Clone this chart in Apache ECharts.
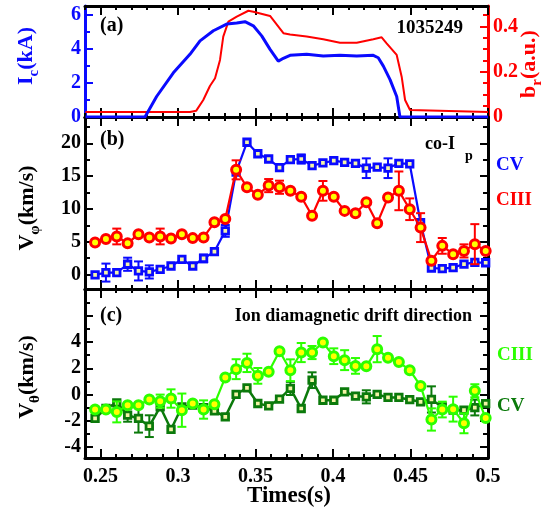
<!DOCTYPE html>
<html>
<head>
<meta charset="utf-8">
<script src="https://cdn.jsdelivr.net/npm/echarts@6/dist/echarts.min.js"></script>
<style>html,body{margin:0;padding:0;background:#fff}#c{width:554px;height:515px}</style>
</head>
<body>
<div id="c"></div>
<script>
// ---------- data ----------
var times = [0.2465,0.2535,0.2605,0.2675,0.2745,0.2815,0.2885,0.2955,0.3025,0.3095,0.3165,0.3235,0.3305,0.3375,0.3445,0.3515,0.3585,0.3655,0.3725,0.3795,0.3865,0.3935,0.4005,0.4075,0.4145,0.4215,0.4285,0.4355,0.4425,0.4495,0.4565,0.4635,0.4705,0.4775,0.4845,0.4915,0.4985];
// panel (b) toroidal velocity (km/s)
var cvTor    = [-0.05,0.3,0.3,1.57,0.55,0.4,0.8,1.3,2.3,1.3,2.45,3.5,6.65,15.6,20.15,18.4,17.6,16.3,17.5,17.6,16.6,17.0,17.35,17.1,16.95,16.2,16.35,16.2,16.95,16.85,7.9,1.0,0.9,1.05,1.6,1.85,1.8];
var cvTorErr = [0,1.37,0,1.0,1.45,1.0,0,0,0,0,0.6,0,0.9,0,0,0,0,0,0,0.7,0,0,0,0,0,1.5,0,1.5,0,0,0,0,0,0,0,0,0];
var ciiiTor    = [4.9,5.4,5.8,4.75,6.15,5.65,5.8,5.5,6.15,5.55,5.65,7.95,8.45,15.95,13.3,12.15,13.55,13.3,12.75,11.85,8.95,12.75,11.85,9.7,9.35,11.0,7.8,11.75,12.75,9.95,7.15,2.1,4.37,3.1,3.6,4.63,3.6];
var ciiiTorErr = [0,0,1.2,0,0,0,1.2,0,0,0,0,0,0,1.45,0,0,1.0,1.0,0,0,0,1.5,0,0,0,0,0,0,2.95,1.65,2.2,0,1.2,0,1.0,3.05,0];
// panel (c) poloidal velocity (km/s)
var ciiiPol    = [-1.15,-1.15,-1.33,-0.82,-0.82,-0.38,-0.51,-0.31,-1.2,-0.69,-1.15,-0.74,1.3,1.93,2.41,1.42,1.73,3.3,1.85,3.2,3.2,3.97,2.92,2.62,2.18,2.15,3.46,2.8,2.47,1.85,0.65,-1.91,-1.15,-1.12,-2.2,0.28,-1.8];
var ciiiPolErr = [0,0,0.8,0,0,0,0.5,0.7,1.27,0,0.7,0,0,0.76,0.7,0.6,0,0,0.83,0.73,0.5,0,0.6,0.76,0.6,0,1.0,0,0,0,0,0.85,0.6,0.95,0.76,0.5,0];
var cvPol    = [-1.83,-1.07,-0.64,-1.58,-1.83,-2.42,-0.94,-2.67,-0.94,-0.82,-1.0,-1.25,-1.71,0.0,0.51,-0.69,-0.87,-0.36,0.46,-1.07,1.09,-0.44,-0.44,0.2,-0.13,-0.18,0.0,-0.23,-0.23,-0.4,-0.56,-0.38,-0.95,-1.2,-1.2,-1.0,-0.7];
var cvPolErr = [0,0,0,0.5,1.08,0.83,0,0,0,0,0,0,0,0,0,0,0,0,0.5,0,0.6,0,0,0,0,0.5,0,0,0,0,0,1.0,0,0,0,0.6,0];
// panel (a) coil current (kA) and b_r (a.u.)
var icTime = [0.2403,0.2787,0.2862,0.297,0.3077,0.3142,0.3228,0.3314,0.3379,0.3432,0.3486,0.354,0.3594,0.3647,0.3672,0.3723,0.383,0.3937,0.4045,0.4153,0.426,0.4292,0.4325,0.4368,0.4411,0.4432,0.5];
var icVals = [0,0,1.2,2.59,3.67,4.46,5.05,5.44,5.5,5.58,5.34,4.75,3.96,3.27,3.4,3.61,3.67,3.57,3.61,3.57,3.61,3.47,2.98,2.19,1.2,0,0];
var brTime = [0.2403,0.3077,0.3118,0.3163,0.3206,0.3239,0.3271,0.3292,0.3325,0.3379,0.3454,0.3486,0.3594,0.368,0.3723,0.383,0.3937,0.4045,0.4153,0.426,0.4314,0.4346,0.4411,0.4443,0.4465,0.4497,0.5];
var brVals = [0.022,0.022,0.028,0.075,0.137,0.171,0.252,0.355,0.421,0.443,0.469,0.465,0.446,0.37,0.364,0.355,0.343,0.328,0.328,0.343,0.352,0.325,0.274,0.178,0.075,0.031,0.022];
// ticks / tick labels
var xMajor = [0.25,0.3,0.35,0.4,0.45,0.5];
var xMinor = [0.24,0.26,0.27,0.28,0.29,0.31,0.32,0.33,0.34,0.36,0.37,0.38,0.39,0.41,0.42,0.43,0.44,0.46,0.47,0.48,0.49];
var icMajor = [0,2,4,6], icMinor = [1,3,5];
var brMajor = [0,0.2,0.4], brMinor = [0.05,0.1,0.15,0.25,0.3,0.35,0.45];
var torMajor = [0,5,10,15,20], torMinor = [2.5,7.5,12.5,17.5,22.5];
var polMajor = [-4,-2,0,2,4,6], polMinor = [-3,-1,1,3,5,7], polLabels = [-4,-2,0,2,4];

// ---------- helpers ----------
var FONT = 'Liberation Serif';
var xAxes = [], yAxes = [];
function addX(g, pos, ticks, len, line, labels) {
  xAxes.push({
    type: 'value', gridIndex: g, position: pos, min: 0.24, max: 0.5,
    axisLine: {show: line, onZero: false, lineStyle: {color: '#000', width: 3}},
    axisTick: {show: true, inside: true, length: len, customValues: ticks, lineStyle: {color: '#000', width: 2}},
    axisLabel: labels ? {show: true, customValues: labels, margin: 9, fontFamily: FONT, fontWeight: 'bold', fontSize: 20, color: '#000',
      formatter: function (v) { return String(+(+v).toFixed(2)); }} : {show: false},
    splitLine: {show: false}
  });
  return xAxes.length - 1;
}
function addY(g, pos, min, max, ticks, len, line, color, labels, margin) {
  yAxes.push({
    type: 'value', gridIndex: g, position: pos, min: min, max: max,
    axisLine: {show: line, onZero: false, lineStyle: {color: color, width: 3}},
    axisTick: {show: true, inside: true, length: len, customValues: ticks, lineStyle: {color: color, width: 2}},
    axisLabel: labels ? {show: true, customValues: labels, margin: margin || 4, fontFamily: FONT, fontWeight: 'bold', fontSize: 20, color: color,
      formatter: function (v) { return String(+(+v).toFixed(2)); }} : {show: false},
    splitLine: {show: false}
  });
  return yAxes.length - 1;
}
var xMain = [];
for (var g = 0; g < 3; g++) {
  xMain.push(addX(g, 'bottom', xMajor, 9, true, g === 2 ? xMajor : null));
  addX(g, 'bottom', xMinor, 4, false, null);
  addX(g, 'top', xMajor, 9, true, null);
  addX(g, 'top', xMinor, 4, false, null);
}
// panel a
var yIc = addY(0, 'left', 0, 6.5, icMajor, 8, true, '#0a0aff', icMajor);
addY(0, 'left', 0, 6.5, icMinor, 5, false, '#0a0aff', null);
var yBr = addY(0, 'right', 0, 0.49, brMajor, 8, true, '#ff0000', brMajor, 5);
addY(0, 'right', 0, 0.49, brMinor, 5, false, '#ff0000', null);
// panel b
var yTor = addY(1, 'left', -2.2, 24, torMajor, 8, true, '#000', torMajor);
addY(1, 'left', -2.2, 24, torMinor, 5, false, '#000', null);
addY(1, 'right', -2.2, 24, torMajor, 8, true, '#000', null);
addY(1, 'right', -2.2, 24, torMinor, 5, false, '#000', null);
// panel c
var yPol = addY(2, 'left', -4.85, 8.05, polMajor, 8, true, '#000', polLabels);
addY(2, 'left', -4.85, 8.05, polMinor, 5, false, '#000', null);
addY(2, 'right', -4.85, 8.05, polMajor, 8, true, '#000', null);
addY(2, 'right', -4.85, 8.05, polMinor, 5, false, '#000', null);

function pairs(xs, ys) { return xs.map(function (x, i) { return [x, ys[i]]; }); }
function errData(vals, errs) {
  var out = [];
  for (var i = 0; i < times.length; i++) if (errs[i] > 0) out.push([times[i], vals[i], errs[i]]);
  return out;
}
function errSeries(xi, yi, vals, errs, color, z) {
  return {
    type: 'custom', xAxisIndex: xi, yAxisIndex: yi, z: z, silent: true,
    data: errData(vals, errs),
    renderItem: function (params, api) {
      var x = api.value(0), y = api.value(1), e = api.value(2);
      var lo = api.coord([x, y - e]), hi = api.coord([x, y + e]);
      var w = 4.5, st = {stroke: color, lineWidth: 2};
      return {type: 'group', children: [
        {type: 'line', shape: {x1: lo[0], y1: lo[1], x2: hi[0], y2: hi[1]}, style: st},
        {type: 'line', shape: {x1: lo[0] - w, y1: lo[1], x2: lo[0] + w, y2: lo[1]}, style: st},
        {type: 'line', shape: {x1: hi[0] - w, y1: hi[1], x2: hi[0] + w, y2: hi[1]}, style: st}
      ]};
    }
  };
}
function markerSeries(xi, yi, vals, sym, size, border, bw, fill, z, lw) {
  return {
    type: 'line', xAxisIndex: xi, yAxisIndex: yi, z: z, silent: true,
    data: pairs(times, vals), symbol: sym, symbolSize: size, showAllSymbol: true,
    itemStyle: {color: fill, borderColor: border, borderWidth: bw},
    lineStyle: {color: border, width: lw || 2}
  };
}

var BLUE = '#0a0aff', RED = '#ff0000', LGREEN = '#2cff00', DGREEN = '#0b7a0b';
var PALE = '#f4f4a6', YEL = '#ffff00';

var series = [
  {type: 'line', xAxisIndex: xMain[0], yAxisIndex: yBr, data: pairs(brTime, brVals), showSymbol: false, silent: true,
    lineStyle: {color: RED, width: 2}, z: 3},
  {type: 'line', xAxisIndex: xMain[0], yAxisIndex: yIc, data: pairs(icTime, icVals), showSymbol: false, silent: true,
    lineStyle: {color: BLUE, width: 3}, z: 4},
  errSeries(xMain[1], yTor, cvTor, cvTorErr, BLUE, 2),
  markerSeries(xMain[1], yTor, cvTor, 'rect', 6.5, BLUE, 2.8, PALE, 3, 2.2),
  errSeries(xMain[1], yTor, ciiiTor, ciiiTorErr, RED, 4),
  markerSeries(xMain[1], yTor, ciiiTor, 'circle', 9, RED, 3, YEL, 5, 2.2),
  errSeries(xMain[2], yPol, cvPol, cvPolErr, DGREEN, 2),
  markerSeries(xMain[2], yPol, cvPol, 'rect', 6.5, DGREEN, 2.8, PALE, 3, 2.5),
  errSeries(xMain[2], yPol, ciiiPol, ciiiPolErr, LGREEN, 4),
  markerSeries(xMain[2], yPol, ciiiPol, 'circle', 9, LGREEN, 3, YEL, 5, 2.2)
];

function txt(x, y, s, size, color, align) {
  return {type: 'text', x: x, y: y, silent: true, z: 10,
    style: {text: s, fontFamily: FONT, fontWeight: 'bold', fontSize: size, fill: color, align: align || 'left', verticalAlign: 'middle'}};
}
function vtitle(x, y, main1, sub, main2, color) {
  return {type: 'text', x: x, y: y, rotation: Math.PI / 2, silent: true, z: 10,
    style: {
      text: '{m|' + main1 + '}{s|' + sub + '}{m|' + main2 + '}',
      align: 'center', verticalAlign: 'middle', fill: color,
      rich: {
        m: {fontFamily: FONT, fontWeight: 'bold', fontSize: 22, lineHeight: 32, verticalAlign: 'middle', fill: color},
        s: {fontFamily: FONT, fontWeight: 'bold', fontSize: 15, lineHeight: 14, verticalAlign: 'bottom', fill: color}
      }
    }};
}

var option = {
  animation: false,
  backgroundColor: '#fff',
  grid: [
    {left: 85, right: 66, top: 6, height: 111, containLabel: false},
    {left: 85, right: 66, top: 117, height: 172, containLabel: false},
    {left: 85, right: 66, top: 289, height: 169, containLabel: false}
  ],
  xAxis: xAxes,
  yAxis: yAxes,
  series: series,
  graphic: [
    txt(100, 26, '(a)', 20, '#000'),
    txt(463, 28, '1035249', 19, '#000', 'right'),
    txt(100, 140, '(b)', 20, '#000'),
    txt(425, 144, 'co-I', 18, '#000'),
    txt(465, 156, 'p', 14, '#000'),
    txt(496, 165, 'CV', 19, BLUE),
    txt(496, 200, 'CIII', 19, RED),
    txt(100, 316, '(c)', 20, '#000'),
    txt(472, 316, 'Ion diamagnetic drift direction', 18, '#000', 'right'),
    txt(497, 355, 'CIII', 19, LGREEN),
    txt(497, 406, 'CV', 19, DGREEN),
    txt(289, 496, 'Times(s)', 23, '#000', 'center'),
    vtitle(26, 56, 'I', 'c', '(kA)', BLUE),
    vtitle(27, 208, 'V', 'φ', '(km/s)', '#000'),
    vtitle(27, 377, 'V', 'θ', '(km/s)', '#000'),
    vtitle(529, 64, 'b', 'r', '(a.u.)', RED)
  ]
};
var chart = echarts.init(document.getElementById('c'), null, {renderer: 'canvas'});
chart.setOption(option);
</script>
</body>
</html>
